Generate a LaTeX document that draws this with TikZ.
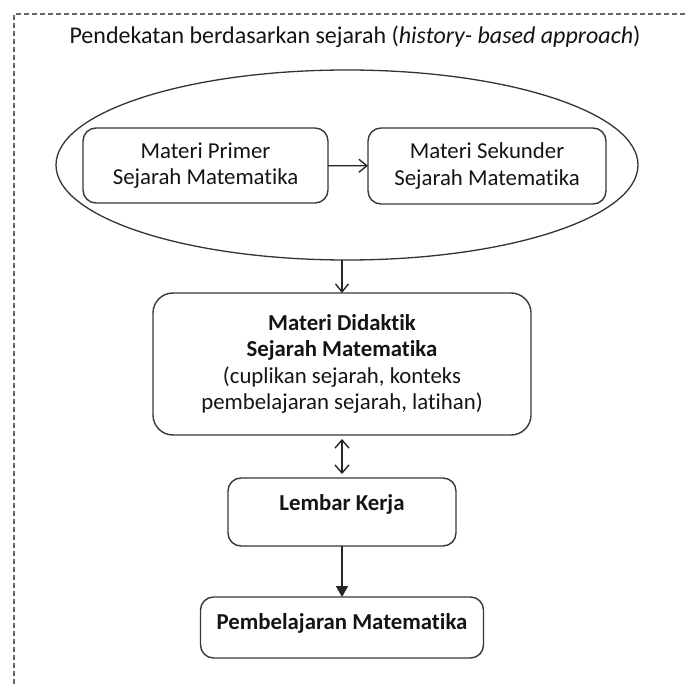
\documentclass[tikz,border=0pt]{standalone}
\usepackage{fontspec}
\setmainfont[Ligatures={NoCommon}]{Carlito}
\usetikzlibrary{positioning,shapes.geometric,arrows.meta}

\begin{document}
\begin{tikzpicture}[x=1pt, y=1pt, node distance=40pt,
  font=\fontsize{22.8}{26.5}\selectfont, text=black!92,
  box/.style = {draw=black!78, line width=1.4pt, rounded corners=13pt, align=center, outer sep=0pt},
  arr/.style = {draw=black!85, line width=1.4pt, -{Straight Barb[length=8pt,width=13pt]}},
  frame/.style = {draw=black!60, line width=1.1pt, dash pattern=on 5pt off 3pt}]
\useasboundingbox (0,0) rectangle (685,-684);
\draw[frame] (685,-14) -- (14,-14) -- (14,-684);
\node (t) [anchor=base, font=\fontsize{24}{28}\selectfont] at (355,-44) {Pendekatan berdasarkan sejarah (\textit{history- based approach})};
\node[ellipse, draw=black!80, line width=1.3pt, minimum width=582pt, minimum height=190pt, inner sep=0pt, outer sep=0pt] (e) at (347,-165) {};
\node[box, minimum width=245pt, minimum height=75pt] (1) at (205.5,-165.5) {Materi Primer\\Sejarah Matematika};
\node[box, minimum width=238pt, minimum height=76pt] (2) at (487,-166) {Materi Sekunder\\Sejarah Matematika};
\node[box, rounded corners=20pt, minimum width=378pt, minimum height=142pt] (3) [below=33pt of e, xshift=-5pt]
  {\textbf{Materi Didaktik}\\\textbf{Sejarah Matematika}\\(cuplikan sejarah, konteks\\pembelajaran sejarah, latihan)};
\node[box, minimum width=228pt, minimum height=68pt, text height=15pt, text depth=19pt] (4) [below=43pt of 3] {\textbf{Lembar Kerja}};
\node[box, minimum width=283pt, minimum height=61pt, text height=15pt, text depth=12pt] (5) [below=51pt of 4] {\textbf{Pembelajaran Matematika}};
\draw[arr] (1) -- (2);
\draw[arr] (3.north |- e.south) -- (3);
\draw[arr, {Straight Barb[length=8pt,width=14pt]}-{Straight Barb[length=8pt,width=14pt]}, shorten <=4pt, shorten >=4pt] (3) -- (4);
\draw[arr, -{Triangle[length=11pt,width=12pt]}] (4) -- (5);
\end{tikzpicture}
\end{document}
